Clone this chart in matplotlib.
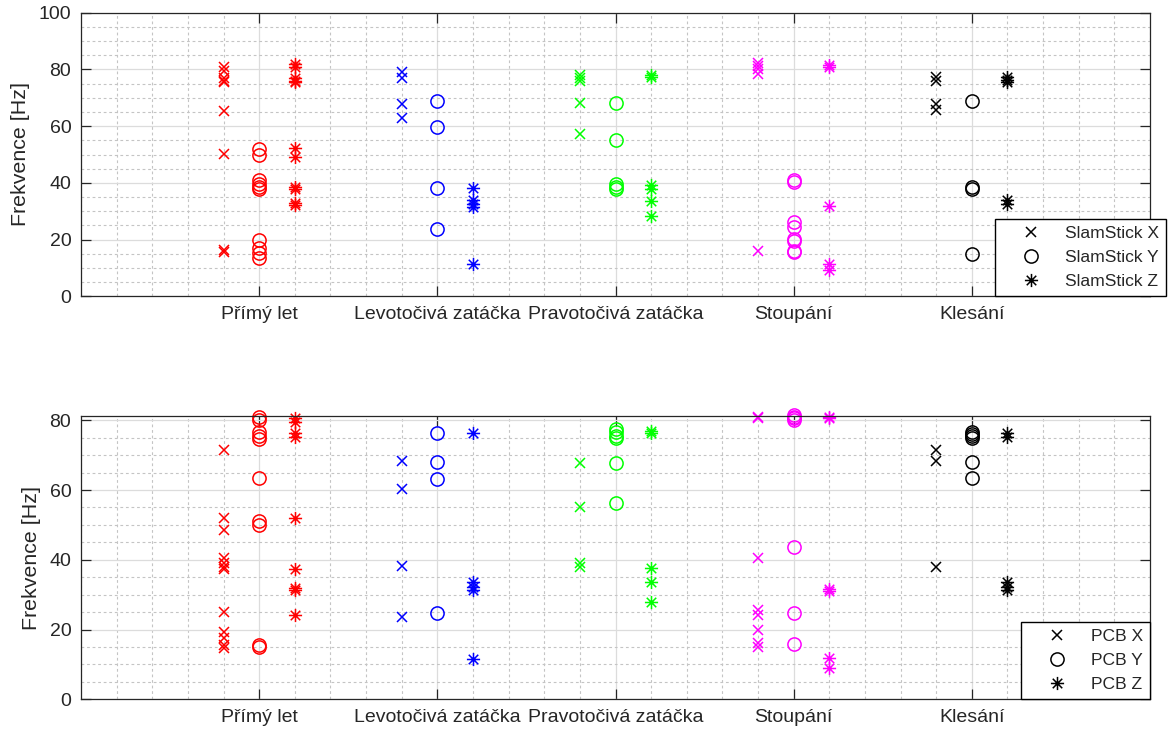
import matplotlib
matplotlib.use("Agg")
import matplotlib.pyplot as plt
from matplotlib.path import Path
from matplotlib.lines import Line2D
from matplotlib.ticker import MultipleLocator

plt.rcParams["font.family"] = ["Liberation Sans", "DejaVu Sans"]

# kategorie manévrů a jejich barvy
categories = ["Přímý let", "Levotočivá zatáčka", "Pravotočivá zatáčka", "Stoupání", "Klesání"]
cat_colors = ["#ff0000", "#0000ff", "#00ff00", "#ff00ff", "#000000"]

# SlamStick — frekvence [Hz] po osách, jeden seznam na manévr
slam_x = [
    [81, 79.5, 77, 76, 75.5, 65.5, 50.3, 16.3, 15.5],
    [79, 77, 67.8, 63],
    [78, 77, 75.8, 68.2, 57.1],
    [82.3, 81.2, 80, 78.5, 16.1],
    [77.4, 75.8, 67.8, 65.6],
]
slam_y = [
    [52, 50, 41, 39.5, 38.5, 37.8, 19.8, 16.9, 15.2, 13.4],
    [68.9, 59.7, 38.3, 23.8],
    [68.0, 55.2, 39.5, 38.7, 38.0],
    [40.9, 40.3, 26.1, 24.4, 20.3, 19.5, 16.1, 15.5],
    [68.9, 38.5, 37.9, 15.0],
]
slam_z = [
    [82, 80.9, 76.8, 76, 75.5, 52.2, 49, 38.6, 38, 32.8, 32.2],
    [38.3, 33.8, 32.5, 31.4, 11.4],
    [78, 77.2, 39.1, 37.9, 33.5, 28.3],
    [81.5, 80.7, 32.0, 11.4, 9.1],
    [77.4, 76.2, 75.4, 33.8, 32.6],
]

# PCB
pcb_x = [
    [71.5, 52, 48.5, 40.4, 39, 38, 37.3, 25.1, 19.4, 17.5, 15.6, 14.8],
    [68.3, 60.3, 38.2, 23.7],
    [67.7, 55.2, 39.0, 38.0],
    [81.0, 80.6, 40.4, 25.6, 24.2, 19.9, 16.2, 14.9],
    [71.5, 68.3, 38.0],
]
pcb_y = [
    [81, 80, 76.7, 75.5, 74.5, 63.4, 51, 50, 15.6, 15.1],
    [76.3, 68.0, 63.2, 24.7],
    [77.5, 76.5, 75.5, 74.8, 67.7, 56.2],
    [81.5, 81, 80.5, 80, 43.8, 24.7, 15.9],
    [76.5, 76, 75.5, 75, 68.0, 63.4],
]
pcb_z = [
    [80.6, 79.6, 76.3, 75.3, 51.9, 37.3, 31.8, 31.3, 24.2],
    [76.3, 33.5, 32.3, 31.3, 11.5],
    [77.0, 76.3, 37.6, 33.5, 28.0],
    [81.0, 80.6, 31.5, 31.0, 11.8, 8.9],
    [76.3, 75.3, 33.5, 32.3, 31.2],
]

# hvězdička jako v MATLABu (+ a x přes sebe)
d = 0.72
ASTERISK = Path(
    [(-1, 0), (1, 0), (0, -1), (0, 1), (-d, -d), (d, d), (-d, d), (d, -d)],
    [Path.MOVETO, Path.LINETO] * 4,
)

TXT = "#262626"
OFFSET = 0.2

markers = [
    ("x", dict(marker="x", ms=6.5, mew=1.1)),
    ("o", dict(marker="o", ms=9.5, mew=1.1, mfc="none")),
    ("*", dict(marker=ASTERISK, ms=9.5, mew=1.1, mfc="none")),
]


def draw_panel(ax, series, ylim_top, yticks, prefix, legend_anchor, fig):
    offsets = [-OFFSET, 0.0, OFFSET]
    for i, color in enumerate(cat_colors):
        for (name, style), off, data in zip(markers, offsets, series):
            vals = data[i]
            ax.plot([i + 1 + off] * len(vals), vals, ls="none", color=color,
                    clip_on=False, **style)

    ax.set_xlim(0, 6)
    ax.set_ylim(0, ylim_top)
    ax.set_xticks(range(1, len(categories) + 1))
    ax.set_xticklabels(categories)
    ax.set_yticks(yticks)
    ax.xaxis.set_minor_locator(MultipleLocator(0.2))
    ax.yaxis.set_minor_locator(MultipleLocator(5))
    ax.set_axisbelow(True)
    ax.grid(True, which="major", color="#dcdcdc", lw=0.9, ls="-")
    ax.grid(True, which="minor", color="#c4c4c4", lw=0.8, ls=(0, (2.5, 2.5)))
    ax.tick_params(which="major", direction="in", length=7, width=0.9, colors=TXT,
                   top=True, right=True, labelsize=14, pad=7)
    ax.tick_params(which="minor", length=0)
    for sp in ax.spines.values():
        sp.set_color(TXT)
        sp.set_linewidth(0.9)
    ax.set_ylabel("Frekvence [Hz]", fontsize=15.4, color=TXT, labelpad=6)

    handles = [Line2D([], [], ls="none", color="k", **style) for _, style in markers]
    labels = [f"{prefix} {a}" for a in ("X", "Y", "Z")]
    leg = ax.legend(handles, labels, loc="lower right", bbox_to_anchor=legend_anchor,
                    bbox_transform=fig.transFigure, borderaxespad=0, fontsize=12.6,
                    fancybox=False, framealpha=1, edgecolor="k", borderpad=0.4,
                    handlelength=3.3, handletextpad=0.3, labelspacing=0.5)
    leg.get_frame().set_linewidth(1.0)
    leg.set_zorder(5)
    for t in leg.get_texts():
        t.set_color(TXT)


fig = plt.figure(figsize=(11.69, 7.35), dpi=100)
W, H = 1169, 735
ax1 = fig.add_axes([81 / W, 1 - 296.3 / H, 1069 / W, 283.6 / H])
ax2 = fig.add_axes([81 / W, 1 - 699.3 / H, 1069 / W, 283.6 / H])

draw_panel(ax1, [slam_x, slam_y, slam_z], 100, range(0, 101, 20), "SlamStick",
           (1166 / W, 1 - 296.3 / H), fig)
draw_panel(ax2, [pcb_x, pcb_y, pcb_z], 81.3, range(0, 81, 20), "PCB",
           (1150 / W, 1 - 699.3 / H), fig)

fig.savefig("out.png", dpi=100)
